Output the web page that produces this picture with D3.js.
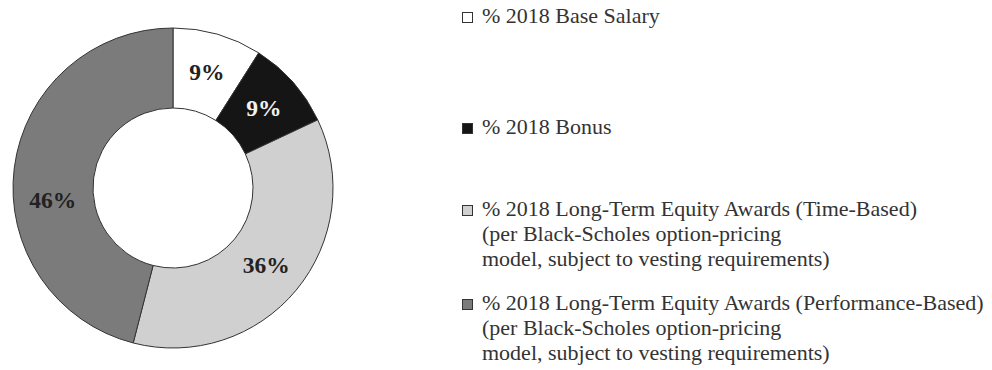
<!DOCTYPE html>
<html>
<head>
<meta charset="utf-8">
<script src="https://cdn.jsdelivr.net/npm/d3@7"></script>
<style>
  html, body { margin: 0; padding: 0; background: #fff; }
  svg { display: block; }
</style>
</head>
<body>
<svg id="chart" width="992" height="370"></svg>
<script>
// Compensation mix, 2018
const categories = [
  "% 2018 Base Salary",
  "% 2018 Bonus",
  "% 2018 Long-Term Equity Awards (Time-Based)",
  "% 2018 Long-Term Equity Awards (Performance-Based)"
];
const shares = [9, 9, 36, 46];
const legendNotes = [
  [],
  [],
  ["(per Black-Scholes option-pricing", "model, subject to vesting requirements)"],
  ["(per Black-Scholes option-pricing", "model, subject to vesting requirements)"]
];
const fills = ["#ffffff", "#151515", "#d0d0d0", "#7b7b7b"];
const labelFills = ["#222", "#f2f2f2", "#222", "#222"];

const svg = d3.select("#chart");
const cx = 173, cy = 188, rOuter = 160, rInner = 80;

const pie = d3.pie().sort(null).value(d => d)(shares);
const arc = d3.arc().innerRadius(rInner).outerRadius(rOuter);

const g = svg.append("g").attr("transform", `translate(${cx},${cy})`);

g.selectAll("path.slice")
  .data(pie)
  .join("path")
  .attr("class", "slice")
  .attr("d", arc)
  .attr("fill", (d, i) => fills[i])
  .attr("stroke", "#333")
  .attr("stroke-width", 1);

// Labels sit in the ring; the large slice's label is swung a little toward the bottom
const labelRadius = 121;
const angleShift = [0, 0, 0, -13 * Math.PI / 180];
g.selectAll("text.pct")
  .data(pie)
  .join("text")
  .attr("class", "pct")
  .each(function (d, i) {
    const a = (d.startAngle + d.endAngle) / 2 + angleShift[i];
    d3.select(this)
      .attr("x", labelRadius * Math.sin(a))
      .attr("y", -labelRadius * Math.cos(a));
  })
  .attr("text-anchor", "middle")
  .attr("dominant-baseline", "central")
  .attr("font-family", "'Liberation Serif', 'Times New Roman', serif")
  .attr("font-weight", "bold")
  .attr("font-size", 23.5)
  .attr("fill", (d, i) => labelFills[i])
  .text(d => d.data + "%");

// Legend
const legendX = 462;
const legendBaselines = [23, 134, 216, 310];
const lineStep = 25;
const legend = svg.append("g")
  .attr("font-family", "'Liberation Serif', 'Times New Roman', serif")
  .attr("font-size", 22)
  .attr("fill", "#333");

categories.forEach((name, i) => {
  const y0 = legendBaselines[i];
  legend.append("rect")
    .attr("x", legendX + 0.5)
    .attr("y", y0 - 10.5)
    .attr("width", 10)
    .attr("height", 10)
    .attr("fill", fills[i])
    .attr("stroke", "#333")
    .attr("stroke-width", 1);
  legend.append("text")
    .attr("x", legendX + 20)
    .attr("y", y0)
    .text(name);
  legendNotes[i].forEach((line, j) => {
    legend.append("text")
      .attr("x", legendX + 20)
      .attr("y", y0 + lineStep * (j + 1))
      .text(line);
  });
});
</script>
</body>
</html>
